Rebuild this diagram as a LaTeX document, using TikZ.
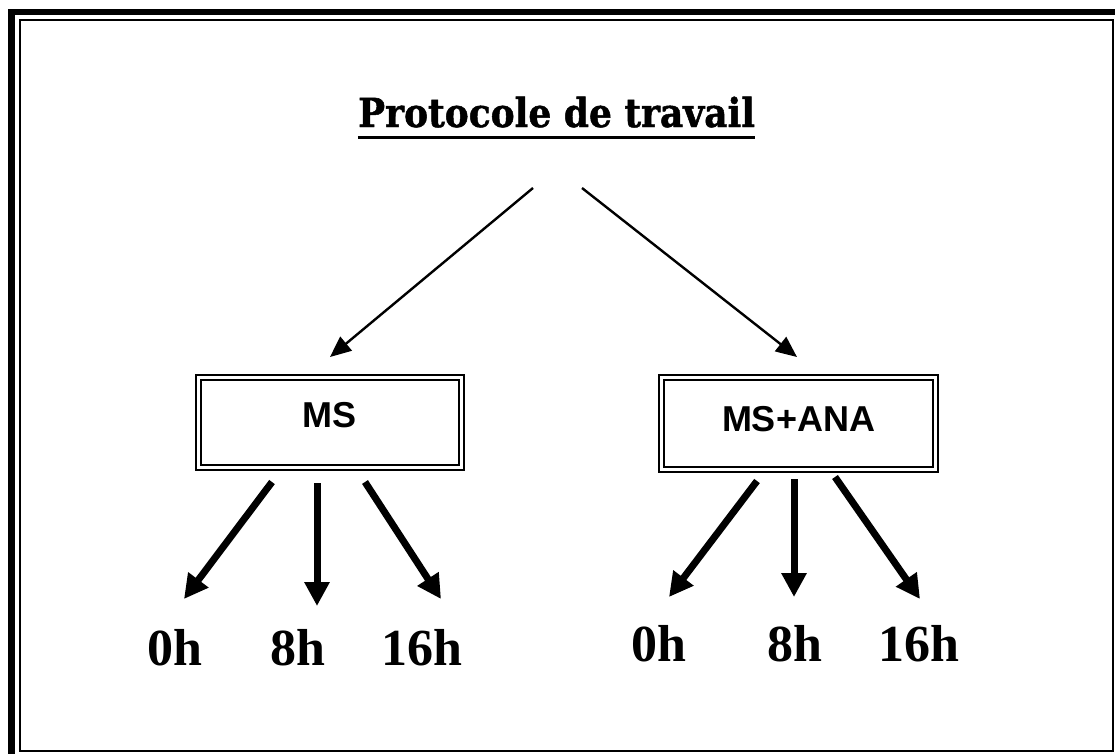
\documentclass[tikz,border=0pt]{standalone}
\usepackage{fontspec}
\setmainfont{Liberation Serif}
\newfontfamily\boxfont{Liberation Sans}
\newfontfamily\titlefont[FakeStretch=0.9,FakeBold=1.2]{DejaVu Serif}
\usetikzlibrary{arrows.meta,positioning}

\begin{document}
\begin{tikzpicture}[x=1pt,y=-1pt,
	thinarrow/.style={line width=2.4pt,-{Triangle[length=21pt,width=18pt]}},
	fatarrow/.style={line width=7pt,-{Triangle[length=24pt,width=24pt]}},
	labbox/.style={draw,double,line width=2.2pt,double distance=2.6pt,inner sep=0pt,
		text height=26pt,font=\boxfont\bfseries\fontsize{36}{40}\selectfont},
	hour/.style={anchor=base,inner sep=0pt,font=\bfseries\fontsize{52}{56}\selectfont}]
			\useasboundingbox (0,0) rectangle (1115,753);
			\draw [line width=6.5pt] (11.5,12) rectangle (1128,766);
			\draw [line width=2pt] (20,20) rectangle (1113,751);
			\node [anchor=base,inner sep=0pt,font=\titlefont\bfseries\fontsize{40}{44}\selectfont] (title) at (556.5,127) {Protocole de travail};
			\draw [line width=3pt] ([yshift=-10pt]title.base west) -- ([yshift=-10pt]title.base east);
			\node [labbox,minimum width=263pt,minimum height=90pt,text depth=17pt] (ms) at (329.75,422.5) {MS};
			\node [labbox,minimum width=274pt,minimum height=92pt,text depth=11pt] (msana) at (798.5,423.5) {MS+ANA};
			\coordinate (tleft) at (533,188);
			\coordinate (tright) at (582,188);
			\coordinate (msin) at (330,357);
			\coordinate (msanain) at (797,357);
			\draw [thinarrow] (tleft) -- (msin);
			\draw [thinarrow] (tright) -- (msanain);
			\node [hour] (ms0) at (175,665) {0h};
			\node [hour] (ms8) at (298,665) {8h};
			\node [hour] (ms16) at (422,665) {16h};
			\node [hour] (msana0) at (659,661) {0h};
			\node [hour] (msana8) at (795,661) {8h};
			\node [hour] (msana16) at (919,661) {16h};
			\foreach \name/\x/\y/\tx/\ty in {a/272/482/184/599, b/317/483/317/606, c/365/482/441/599,
				d/757/481/669/597, e/794/479/794/597, f/835/477/920/599} {
				\coordinate (out\name) at (\x,\y);
				\coordinate (in\name) at (\tx,\ty);
				\draw [fatarrow] (out\name) -- (in\name);
			}
\end{tikzpicture}
\end{document}
